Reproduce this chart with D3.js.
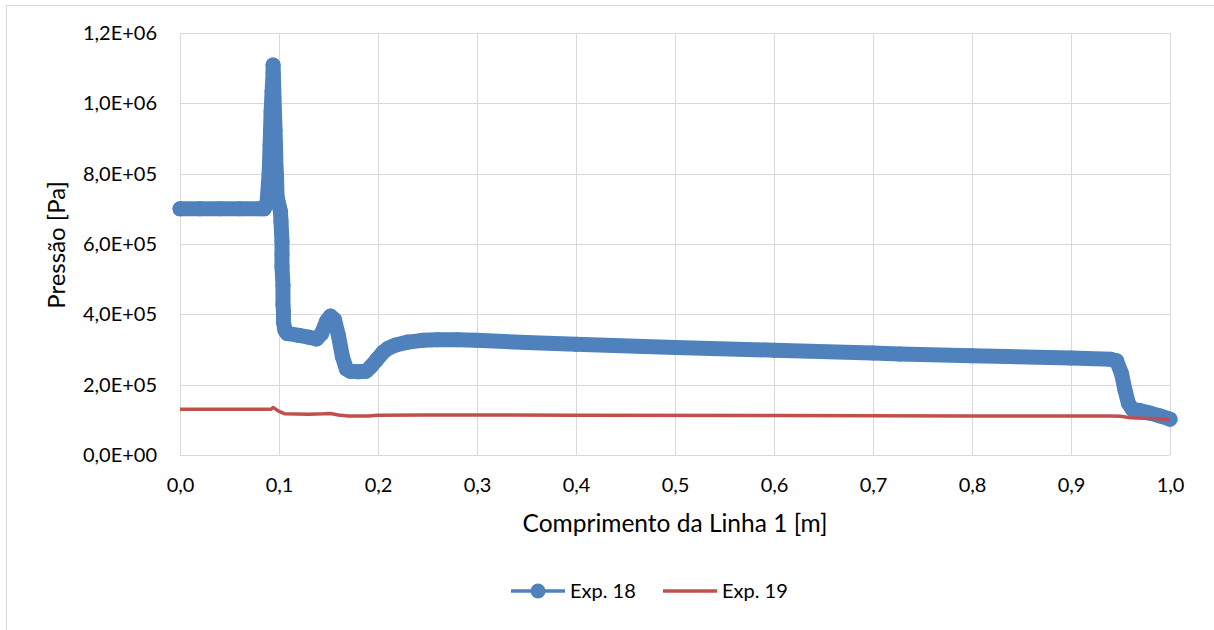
<!DOCTYPE html>
<html lang="pt">
<head>
	<meta charset="utf-8">
	<script src="https://d3js.org/d3.v7.min.js"></script>
	<title>Pressão ao longo da Linha 1</title>
	<style>
		body { margin: 0; background: #fff; }
		text { font-family: Lato, "Open Sans", sans-serif; fill: #000; }
	</style>
</head>
<body>
<svg width="1214" height="630"></svg>
<script>
// dados: comprimento [m] e pressão [Pa]
var exp18X = [0.000, 0.020, 0.040, 0.060, 0.080, 0.085, 0.088, 0.090, 0.091, 0.0915, 0.092, 0.093, 0.094, 0.094,
	0.0955, 0.096, 0.0965, 0.097, 0.0975, 0.098, 0.1015, 0.102, 0.103, 0.103, 0.103, 0.104, 0.104, 0.1045, 0.1045, 0.106,
	0.108, 0.110, 0.120, 0.130, 0.138, 0.143, 0.148, 0.152, 0.156, 0.160, 0.164, 0.168, 0.172, 0.180, 0.188, 0.193, 0.199,
	0.205, 0.210, 0.218, 0.230, 0.245, 0.260, 0.280, 0.300, 0.350, 0.400, 0.500, 0.600, 0.700, 0.727, 0.800, 0.900, 0.940,
	0.946, 0.951, 0.9545, 0.958, 0.962, 0.970, 0.980, 0.990, 1.000];
var exp18Y = [700000, 700000, 700000, 700000, 700000, 700000, 720000, 800000, 880000, 924000, 976000, 1033000, 1086000, 1109000,
	967000, 924000, 877000, 816000, 796000, 735000, 692000, 664000, 607000, 569000, 536000, 483000, 427000, 408000, 379000, 355000,
	346000, 345000, 340000, 335000, 330000, 345000, 380000, 395000, 385000, 340000, 280000, 245000, 238000, 237000, 238000, 252000, 272000,
	292000, 303000, 313000, 321000, 326000, 328000, 328000, 326000, 320000, 315000, 306000, 298000, 290000, 287000, 282000, 276000, 272000,
	268000, 232000, 185000, 147000, 130000, 126000, 119000, 111000, 102000];

var exp19X = [0.000, 0.092, 0.094, 0.100, 0.106, 0.130, 0.145, 0.152, 0.160, 0.170, 0.190, 0.200, 0.250, 0.400,
	0.600, 0.800, 0.940, 0.950, 0.960, 0.980, 1.000];
var exp19Y = [130000, 130000, 135000, 124000, 117000, 116000, 117000, 118000, 114000, 111000, 111000, 113000, 114000, 113000,
	112000, 111000, 111000, 110000, 106000, 104000, 101500];

var xTicks = d3.range(0, 11).map(function(i){ return i / 10; });
var yTicks = d3.range(0, 7).map(function(i){ return i * 200000; });
var seriesNames = ["Exp. 18", "Exp. 19"];
var colors = ["#4f81bd", "#c0504d"];

var svg = d3.select("svg");

// moldura externa do gráfico
svg.append("rect")
	.attr("x", 6.5).attr("y", 5.5)
	.attr("width", 1230).attr("height", 650)
	.attr("fill", "none").attr("stroke", "#d9d9d9");

// área de plotagem
var plot = {left: 180, right: 1170, top: 33, bottom: 455};
var x = d3.scaleLinear().domain([0, 1]).range([plot.left, plot.right]);
var y = d3.scaleLinear().domain([0, 1200000]).range([plot.bottom, plot.top]);

// formato 1,2E+06
function sci(v) {
	if (v === 0) return "0,0E+00";
	var e = Math.floor(Math.log10(v));
	var m = (v / Math.pow(10, e)).toFixed(1).replace(".", ",");
	return m + "E+" + (e < 10 ? "0" + e : e);
}

// grade
var grid = svg.append("g").attr("stroke", "#d9d9d9").attr("stroke-width", 1);
grid.selectAll(".h").data(yTicks).enter().append("line")
	.attr("x1", plot.left).attr("x2", plot.right)
	.attr("y1", function(d){ return Math.round(y(d)) + 0.5; })
	.attr("y2", function(d){ return Math.round(y(d)) + 0.5; });
grid.selectAll(".v").data(xTicks).enter().append("line")
	.attr("y1", plot.top).attr("y2", plot.bottom)
	.attr("x1", function(d){ return Math.round(x(d)) + 0.5; })
	.attr("x2", function(d){ return Math.round(x(d)) + 0.5; });

// eixos (só rótulos)
var yAxis = svg.append("g")
	.attr("transform", "translate(" + plot.left + ",0)")
	.call(d3.axisLeft(y).tickValues(yTicks).tickFormat(sci).tickSize(0).tickPadding(23));
var xAxis = svg.append("g")
	.attr("transform", "translate(0," + plot.bottom + ")")
	.call(d3.axisBottom(x).tickValues(xTicks).tickFormat(function(d){ return d.toFixed(1).replace(".", ","); }).tickSize(0).tickPadding(23));
[yAxis, xAxis].forEach(function(a){
	a.select(".domain").remove();
	a.selectAll("text").style("font-family", "Lato, sans-serif").style("font-size", "20px").attr("fill", "#000");
});

// títulos dos eixos
svg.append("text")
	.attr("transform", "translate(65,245) rotate(-90)")
	.attr("text-anchor", "middle")
	.style("font-size", "24px")
	.text("Pressão [Pa]");
svg.append("text")
	.attr("x", 675).attr("y", 532)
	.attr("text-anchor", "middle")
	.style("font-size", "24.5px")
	.text("Comprimento da Linha 1 [m]");

// séries
var pts18 = exp18X.map(function(d, i){ return [d, exp18Y[i]]; });
var pts19 = exp19X.map(function(d, i){ return [d, exp19Y[i]]; });
var line = d3.line().x(function(d){ return x(d[0]); }).y(function(d){ return y(d[1]); });

svg.append("path")
	.datum(pts18)
	.attr("d", line)
	.attr("fill", "none")
	.attr("stroke", colors[0])
	.attr("stroke-width", 15)
	.attr("stroke-linejoin", "round")
	.attr("stroke-linecap", "round");
svg.append("g").selectAll("circle")
	.data(pts18).enter().append("circle")
	.attr("cx", function(d){ return x(d[0]); })
	.attr("cy", function(d){ return y(d[1]); })
	.attr("r", 7.5)
	.attr("fill", colors[0]);

svg.append("path")
	.datum(pts19)
	.attr("d", line)
	.attr("fill", "none")
	.attr("stroke", colors[1])
	.attr("stroke-width", 3.5)
	.attr("stroke-linejoin", "round");

// legenda
var legend = svg.append("g");
var lx = [511, 663];
seriesNames.forEach(function(name, i){
	legend.append("line")
		.attr("x1", lx[i]).attr("x2", lx[i] + 54)
		.attr("y1", 591).attr("y2", 591)
		.attr("stroke", colors[i]).attr("stroke-width", 3.5);
	if (i === 0) {
		legend.append("circle").attr("cx", lx[i] + 27).attr("cy", 591).attr("r", 7.5).attr("fill", colors[i]);
	}
	legend.append("text")
		.attr("x", lx[i] + 59).attr("y", 598)
		.style("font-size", "20px")
		.text(name);
});
</script>
</body>
</html>
